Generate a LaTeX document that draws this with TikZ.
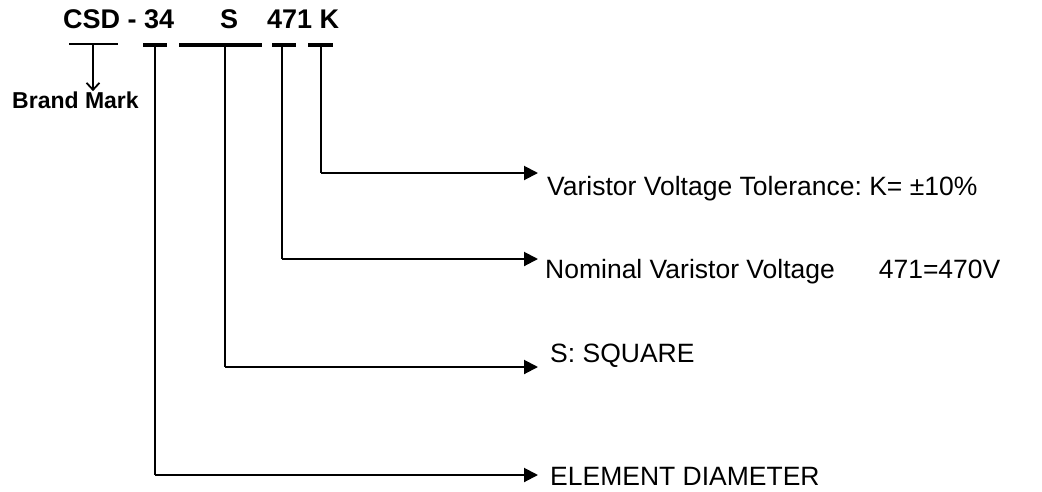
\documentclass[tikz,border=0pt]{standalone}
\usepackage{fontspec}
\setmainfont{Liberation Sans}
\usetikzlibrary{arrows.meta}
\frenchspacing
\begin{document}
\begin{tikzpicture}[x=1pt,y=-1pt,
  title/.style={font=\fontsize{27}{30}\selectfont\bfseries, inner sep=0pt, anchor=base west},
  lbl/.style={font=\fontsize{26.5}{30}\selectfont\frenchspacing, inner sep=0pt, anchor=base west},
  bar/.style={line width=4pt},
  stem/.style={line width=2.8pt},
  lead/.style={line width=2pt, -{Triangle[length=14pt,width=14pt]}},
]
\useasboundingbox (0,0) rectangle (1042,491);
% title code
\node[title] (csd) at (63,28) {CSD - 34};
\node[title] (s) at (220,28) {S};
\node[title] (k) at (267,28) {471 K};
% underline bars
\coordinate (bm1) at (69,44);
\coordinate (bm2) at (118,44);
\draw[line width=1.2pt] (bm1) -- (bm2);
\coordinate (b1a) at (143,45); \coordinate (b1b) at (167,45);
\coordinate (b2a) at (179,45); \coordinate (b2b) at (262,45);
\coordinate (b3a) at (272,45); \coordinate (b3b) at (296,45);
\coordinate (b4a) at (308,45); \coordinate (b4b) at (333,45);
\draw[bar] (b1a) -- (b1b);
\draw[bar] (b2a) -- (b2b);
\draw[bar] (b3a) -- (b3b);
\draw[bar] (b4a) -- (b4b);
% brand mark
\node[font=\fontsize{23}{26}\selectfont\bfseries, inner sep=0pt, anchor=base west] (brand) at (12,108) {Brand Mark};
\coordinate (bmtop) at (93,44);
\draw[line width=1.8pt, -{Straight Barb[length=7pt,width=13pt,line width=1.8pt]}] (bmtop) -- (brand.north -| bmtop);
% labels
\node[lbl] (tol) at (547,195) {Varistor Voltage Tolerance: K= ±10\%};
\node[lbl] (nom) at (545,278) {Nominal Varistor Voltage\hspace{44pt}471=470V};
\node[lbl] (sq) at (550,362) {S: SQUARE};
\node[lbl] (el) at (550,485) {ELEMENT DIAMETER};
% stems and leaders
\coordinate (t4) at (321,45); \coordinate (c4) at (321,173); \coordinate (e4) at (538,173);
\coordinate (t3) at (282,45); \coordinate (c3) at (282,259); \coordinate (e3) at (538,259);
\coordinate (t2) at (225,45); \coordinate (c2) at (225,367); \coordinate (e2) at (538,367);
\coordinate (t1) at (155,45); \coordinate (c1) at (155,475); \coordinate (e1) at (538,475);
\draw[stem] (t4) -- (c4);
\draw[stem] (t3) -- (c3);
\draw[stem] (t2) -- (c2);
\draw[stem] (t1) -- (c1);
\draw[lead] (c4) -- (e4);
\draw[lead] (c3) -- (e3);
\draw[lead] (c2) -- (e2);
\draw[lead] (c1) -- (e1);
\end{tikzpicture}
\end{document}
